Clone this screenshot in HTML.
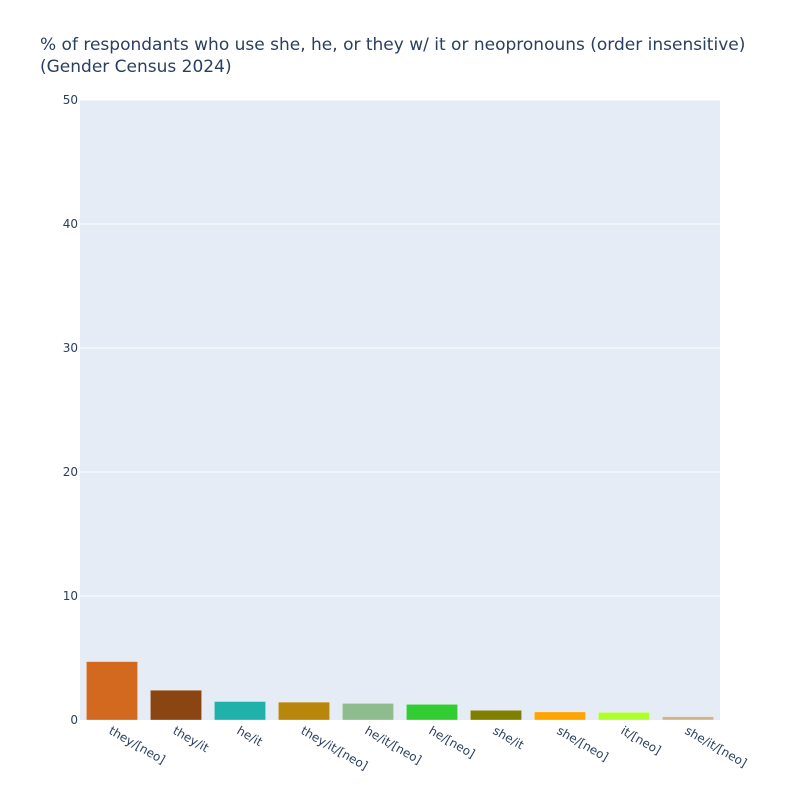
<!DOCTYPE html>
<html><head><meta charset="utf-8"><style>
body{margin:0;background:#fff;font-family:"DejaVu Sans","Liberation Sans",sans-serif}
</style></head><body>
<svg id="chart" width="800" height="800" xmlns="http://www.w3.org/2000/svg" font-family="DejaVu Sans, Liberation Sans, sans-serif">
<rect width="800" height="800" fill="#fff"/>
<text x="40" y="50" font-size="17" fill="#2a3f5f">% of respondants who use she, he, or they w/ it or neopronouns (order insensitive)</text>
<text x="40" y="72" font-size="17" fill="#2a3f5f">(Gender Census 2024)</text>
<rect x="80" y="100" width="640" height="620" fill="#e5ecf6"/>
<g id="grid"></g><g id="bars"></g><g id="yt"></g><g id="xt"></g>
</svg>
<script>
const categories=["they/[neo]","they/it","he/it","they/it/[neo]","he/it/[neo]","he/[neo]","she/it","she/[neo]","it/[neo]","she/it/[neo]"];
const values=[4.71,2.40,1.49,1.44,1.34,1.26,0.78,0.65,0.62,0.27];
const colors=["#d2691e","#8b4513","#20b2aa","#b8860b","#8fbc8f","#32cd32","#808000","#ffa500","#adff2f","#d2b48c"];
const yTicks=[0,10,20,30,40,50];
const NS="http://www.w3.org/2000/svg";
const x0=80,pw=640,y0=720,ph=620,yMax=50;
const band=pw/categories.length;
const y=v=>y0-v/yMax*ph;
const xc=i=>x0+band*(i+0.5);
function mk(t,a,p){const e=document.createElementNS(NS,t);for(const k in a)e.setAttribute(k,a[k]);p.appendChild(e);return e;}
const grid=document.getElementById('grid'),yt=document.getElementById('yt'),bars=document.getElementById('bars'),xt=document.getElementById('xt');
yTicks.forEach(v=>{
 if(v>0){const l=mk('line',{x1:x0,x2:x0+pw,y1:y(v),y2:y(v),stroke:'#fff','stroke-width':1},grid);
 
 }
 const t=mk('text',{x:x0-2,y:y(v)+4,'text-anchor':'end','font-size':12,fill:'#2a3f5f'},yt);
 t.textContent=v;
 
 
});
const bw=band*0.8;
categories.forEach((c,i)=>{
 const r=mk('rect',{x:xc(i)-bw/2,y:y(values[i]),width:bw,height:y0-y(values[i]),fill:colors[i],stroke:'rgba(255,255,255,0.6)','stroke-width':0.5},bars);
 
 
 const t=mk('text',{x:0,y:0,'font-size':12,fill:'#2a3f5f',transform:`translate(${xc(i)-4},${y0+13}) rotate(30)`},xt);
 t.textContent=c;
 
 
});
</script>
</body></html>
